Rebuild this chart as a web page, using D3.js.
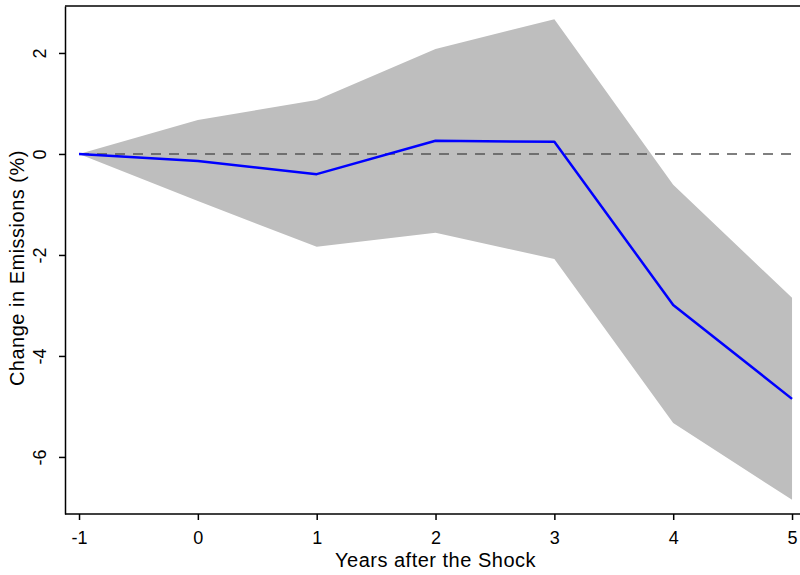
<!DOCTYPE html>
<meta charset="utf-8">
<title>Change in Emissions</title>
<style>
body { margin: 0; background: #fff; }
text { font-family: "Liberation Sans", Arial, Helvetica, sans-serif; fill: #000; }
.axis path, .axis line { stroke: #000; stroke-width: 1.5; }
</style>
<body>
<script src="https://d3js.org/d3.v7.min.js"></script>
<script>

// data
var years = [-1, 0, 1, 2, 3, 4, 5];
var estimate = [0, -0.14, -0.40, 0.26, 0.24, -2.99, -4.85];
var upper = [0, 0.67, 1.07, 2.08, 2.67, -0.61, -2.85];
var lower = [0, -0.93, -1.84, -1.56, -2.08, -5.33, -6.85];
var yTicks = [2, 0, -2, -4, -6];

var width = 800, height = 575;
var margin = {top: 6, right: 0, bottom: 61, left: 65};

var svg = d3.select("body").append("svg")
    .attr("width", width)
    .attr("height", height);

var x = d3.scaleLinear()
    .domain([-1.118, 5.067])
    .range([margin.left, width - margin.right]);

var y = d3.scaleLinear()
    .domain([-7.13, 2.93])
    .range([height - margin.bottom, margin.top]);

var rows = years.map(function(d, i) {
    return {x: d, est: estimate[i], hi: upper[i], lo: lower[i]};
});

// confidence band
svg.append("path")
    .datum(rows)
    .attr("fill", "#bebebe")
    .attr("d", d3.area()
        .x(function(d) { return x(d.x); })
        .y0(function(d) { return y(d.lo); })
        .y1(function(d) { return y(d.hi); }));

// zero line
svg.append("line")
    .attr("x1", x(-1)).attr("x2", x(5))
    .attr("y1", y(0)).attr("y2", y(0))
    .attr("stroke", "#555")
    .attr("stroke-width", 1.5)
    .attr("stroke-dasharray", "10,8");

// point estimates
svg.append("path")
    .datum(rows)
    .attr("fill", "none")
    .attr("stroke", "#0000ff")
    .attr("stroke-width", 2.5)
    .attr("stroke-linejoin", "round")
    .attr("d", d3.line()
        .x(function(d) { return x(d.x); })
        .y(function(d) { return y(d.est); }));

// top border
svg.append("line")
    .attr("x1", margin.left).attr("x2", width)
    .attr("y1", margin.top).attr("y2", margin.top)
    .attr("stroke", "#000").attr("stroke-width", 1.5);

var fmt = function(d) { return String(d); };

// x axis
var gx = svg.append("g")
    .attr("class", "axis")
    .attr("transform", "translate(0," + (height - margin.bottom) + ")")
    .call(d3.axisBottom(x).tickValues(years).tickFormat(fmt)
        .tickSize(6).tickSizeOuter(0).tickPadding(11));
gx.select(".domain").attr("d", "M" + margin.left + ",0H" + width);
gx.selectAll("text").style("font-size", "18px");
// keep the last label inside the window
gx.selectAll(".tick").filter(function(d) { return d === 5; })
    .select("text").attr("text-anchor", "end").attr("x", 5);

// y axis
var gy = svg.append("g")
    .attr("class", "axis")
    .attr("transform", "translate(" + margin.left + ",0)")
    .call(d3.axisLeft(y).tickValues(yTicks).tickFormat(fmt)
        .tickSize(6).tickSizeOuter(0));
gy.selectAll("text")
    .style("font-size", "18px")
    .attr("text-anchor", "middle")
    .attr("x", 0).attr("y", 0).attr("dy", "0.36em")
    .attr("transform", "translate(-25,0) rotate(-90)");

// axis titles
svg.append("text")
    .attr("x", x(2))
    .attr("y", 567)
    .attr("text-anchor", "middle")
    .style("font-size", "20px")
    .style("letter-spacing", "0.5px")
    .text("Years after the Shock");

svg.append("text")
    .attr("transform", "translate(24," + y(-2.26) + ") rotate(-90)")
    .attr("text-anchor", "middle")
    .style("font-size", "20px")
    .style("letter-spacing", "0.5px")
    .text("Change in Emissions (%)");

</script>
</body>
